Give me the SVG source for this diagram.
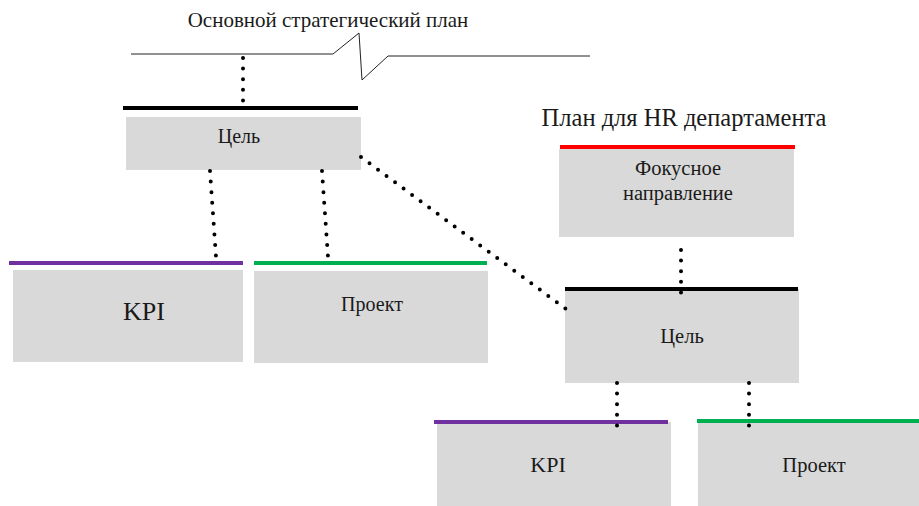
<svg xmlns="http://www.w3.org/2000/svg" width="919" height="506" viewBox="0 0 919 506">
<style>
.box{fill:#d9d9d9}
.t{fill:#1a1a1a;text-anchor:middle}
.dot{fill:none;stroke:#000;stroke-width:4;stroke-linecap:round;stroke-dasharray:0 10.6}
.bar{stroke-width:4;fill:none}
</style>
<rect width="919" height="506" fill="#fff"/>
<g font-family="'Liberation Serif', 'DejaVu Serif', serif">
<g id="main-plan">
<text class="t" x="328" y="27" font-size="21">Основной стратегический план</text>
<polyline points="131,54 333,54 359,33 362,80 388,56 590,56" fill="none" stroke="#222" stroke-width="1"/>
</g>
<g id="hr-plan">
<text class="t" x="684" y="126" font-size="24.5">План для HR департамента</text>
</g>
<g id="goal1">
<line class="bar" x1="123" y1="108" x2="358" y2="108" stroke="#000"/>
<rect class="box" x="126" y="117" width="235" height="53"/>
<text class="t" x="239" y="143" font-size="20">Цель</text>
</g>
<g id="kpi1">
<line class="bar" x1="9" y1="263" x2="243" y2="263" stroke="#7030a0"/>
<rect class="box" x="13" y="270" width="230" height="92"/>
<text class="t" x="144" y="320" font-size="26">KPI</text>
</g>
<g id="project1">
<line class="bar" x1="254" y1="263" x2="487" y2="263" stroke="#00b050"/>
<rect class="box" x="254" y="271" width="234" height="92"/>
<text class="t" x="372" y="311" font-size="20">Проект</text>
</g>
<g id="focus">
<line class="bar" x1="560" y1="147" x2="795" y2="147" stroke="#ff0000"/>
<rect class="box" x="559" y="149" width="235" height="88"/>
<text class="t" x="678" y="175" font-size="20.5">Фокусное</text>
<text class="t" x="678" y="200" font-size="20.5">направление</text>
</g>
<g id="goal2">
<rect class="box" x="565" y="289" width="234" height="94"/>
<line class="bar" x1="565" y1="289" x2="798" y2="289" stroke="#000"/>
<text class="t" x="682" y="343" font-size="20.5">Цель</text>
</g>
<g id="kpi2">
<rect class="box" x="437" y="422" width="234" height="84"/>
<line class="bar" x1="434" y1="422" x2="668" y2="422" stroke="#7030a0"/>
<text class="t" x="548" y="472" font-size="22">KPI</text>
</g>
<g id="project2">
<rect class="box" x="698" y="422" width="221" height="84"/>
<line class="bar" x1="697" y1="421" x2="919" y2="421" stroke="#00b050"/>
<text class="t" x="814" y="472" font-size="20.5">Проект</text>
</g>
</g>
<g id="connectors">
<line class="dot" x1="243" y1="58" x2="243" y2="101"/>
<line class="dot" x1="210" y1="171" x2="216" y2="257"/>
<line class="dot" x1="322" y1="171" x2="328" y2="257"/>
<line class="dot" x1="361" y1="157" x2="570" y2="312"/>
<line class="dot" x1="681" y1="250" x2="681" y2="293"/>
<line class="dot" x1="617" y1="383" x2="617" y2="426"/>
<line class="dot" x1="749" y1="383" x2="749" y2="426"/>
</g>
</svg>
